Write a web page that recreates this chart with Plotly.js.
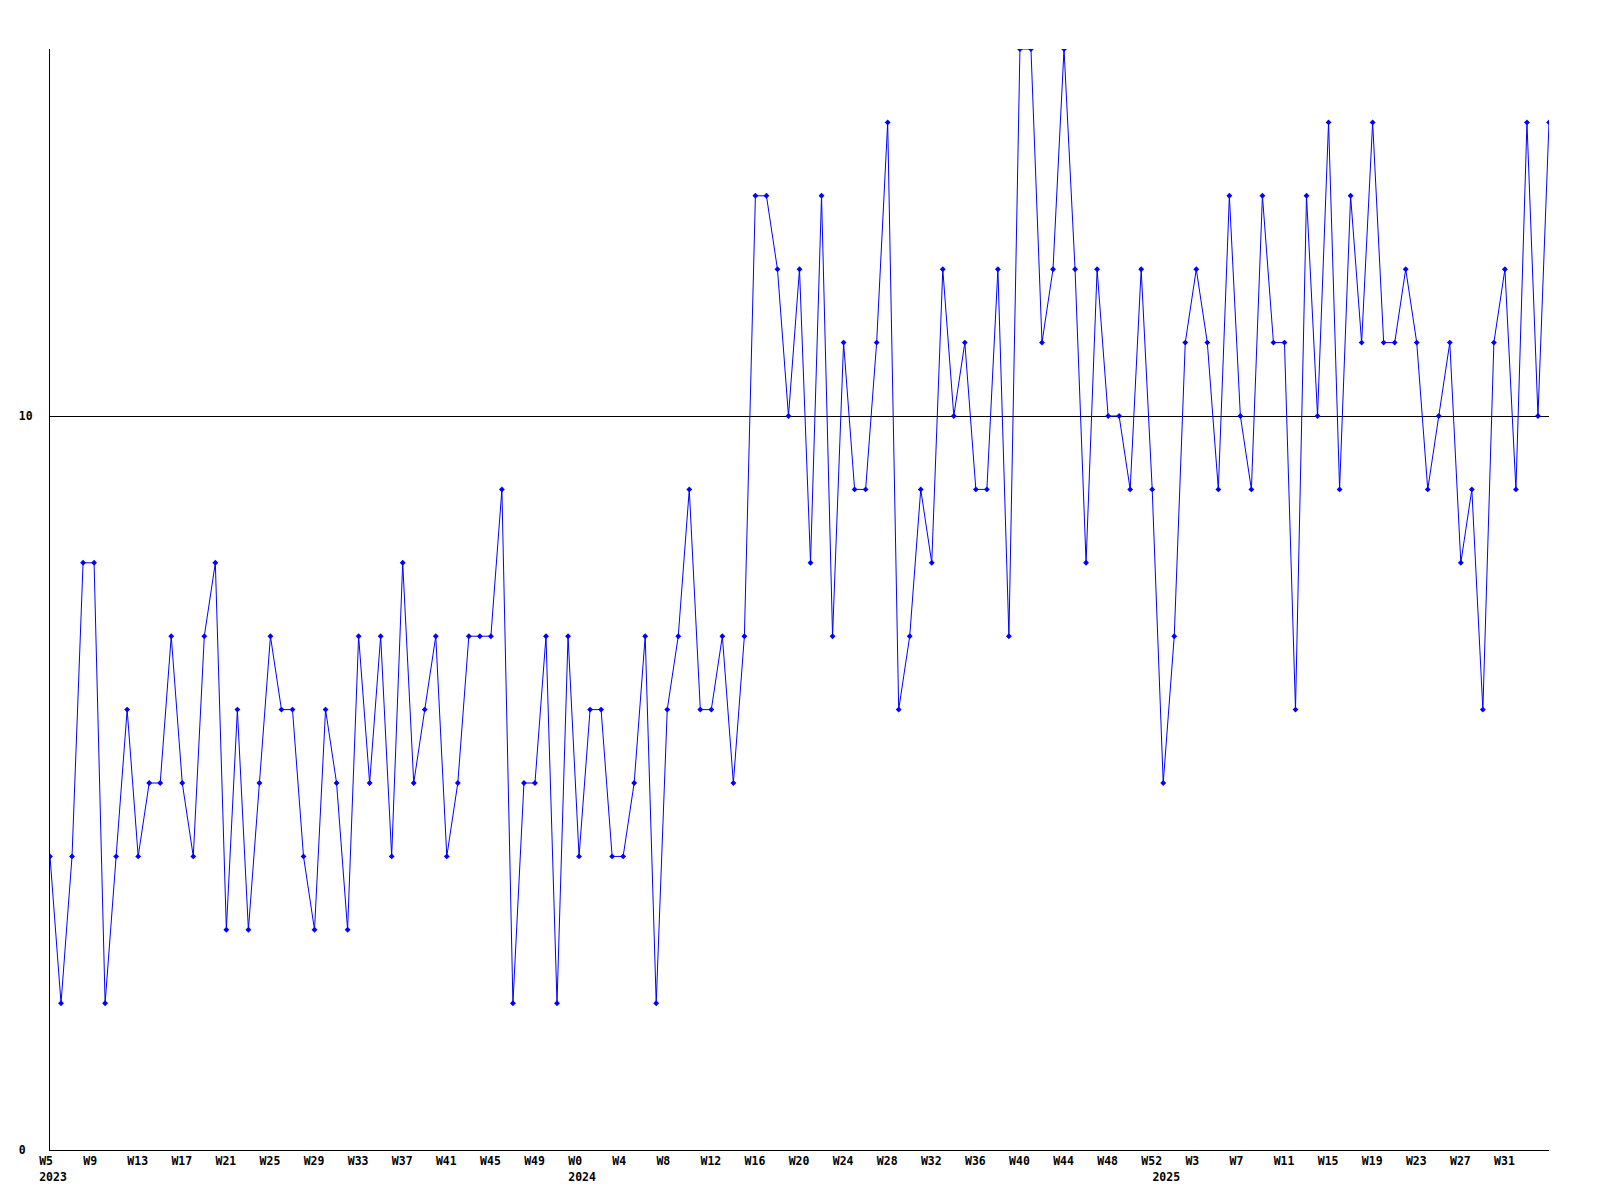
<!DOCTYPE html>
<html>
<head>
<meta charset="utf-8">
<script src="https://cdn.plot.ly/plotly-3.0.1.min.js"></script>
<style>
  html, body { margin: 0; padding: 0; background: #fff; }
  #chart { width: 1600px; height: 1200px; }
</style>
</head>
<body>
<div id="chart"></div>
<script>
// Weekly values, one per week, starting 2023 W5
const values = [
  4, 2, 4, 8, 8, 2, 4, 6, 4, 5,
  5, 7, 5, 4, 7, 8, 3, 6, 3, 5,
  7, 6, 6, 4, 3, 6, 5, 3, 7, 5,
  7, 4, 8, 5, 6, 7, 4, 5, 7, 7,
  7, 9, 2, 5, 5, 7, 2, 7, 4, 6,
  6, 4, 4, 5, 7, 2, 6, 7, 9, 6,
  6, 7, 5, 7, 13, 13, 12, 10, 12, 8,
  13, 7, 11, 9, 9, 11, 14, 6, 7, 9,
  8, 12, 10, 11, 9, 9, 12, 7, 15, 15,
  11, 12, 15, 12, 8, 12, 10, 10, 9, 12,
  9, 5, 7, 11, 12, 11, 9, 13, 10, 9,
  13, 11, 11, 6, 13, 10, 14, 9, 13, 11,
  14, 11, 11, 12, 11, 9, 10, 11, 8, 9,
  6, 11, 12, 9, 14, 10, 14
];

// Week tick labels (every 4th week) and their week positions
const weekTickLabels = ['W5','W9','W13','W17','W21','W25','W29','W33','W37','W41','W45','W49',
  'W0','W4','W8','W12','W16','W20','W24','W28','W32','W36','W40','W44','W48','W52',
  'W3','W7','W11','W15','W19','W23','W27','W31'];
const weekTickPos = [0,4,8,12,16,20,24,28,32,36,40,44,48,52,56,60,64,68,72,76,80,84,88,92,96,100,104,108,112,116,120,124,128,132];

// Year labels and the week positions where each year starts
const yearLabels = ['2023','2024','2025'];
const yearPos = [0, 48, 101];

// Y axis ticks
const yTickVals = [0, 10];
const yTickText = ['0', '10'];

const weekIndex = values.map((v, i) => i);

const NB = '\u00a0';
function pad(s, n) { while (s.length < n) s += NB; return s; }

const tickFont = { family: 'DejaVu Sans Mono, monospace', size: 11.5, weight: 'bold', color: '#000' };

const traces = [
  {
    x: weekIndex,
    y: values,
    type: 'scatter',
    mode: 'lines+markers',
    line: { color: '#0000ff', width: 1 },
    marker: { color: '#0000ff', size: 4.5, symbol: 'diamond' },
    hoverinfo: 'x+y',
    showlegend: false
  },
  {
    x: [], y: [], xaxis: 'x2', yaxis: 'y', type: 'scatter', mode: 'markers',
    showlegend: false, hoverinfo: 'skip'
  }
];

const layout = {
  width: 1600,
  height: 1200,
  margin: { l: 50, r: 51, t: 49, b: 50, pad: 0 },
  paper_bgcolor: '#fff',
  plot_bgcolor: '#fff',
  showlegend: false,
  xaxis: {
    range: [0, values.length - 1],
    tickmode: 'array',
    tickvals: weekTickPos,
    ticktext: weekTickLabels.map(s => pad(s, 4)),
    ticks: '',
    showgrid: false,
    zeroline: false,
    showline: true,
    linecolor: '#000',
    linewidth: 1,
    tickfont: tickFont,
    ticklabelshift: 3,
    fixedrange: true
  },
  xaxis2: {
    overlaying: 'x',
    anchor: 'y',
    side: 'bottom',
    matches: 'x',
    range: [0, values.length - 1],
    tickmode: 'array',
    tickvals: yearPos,
    ticktext: yearLabels.map(s => pad(s, 4)),
    ticks: '',
    showgrid: false,
    zeroline: false,
    showline: false,
    tickfont: tickFont,
    ticklabelshift: 3,
    ticklabelstandoff: 18,
    fixedrange: true
  },
  yaxis: {
    range: [0, 15],
    tickmode: 'array',
    tickvals: yTickVals,
    ticktext: yTickText.map(s => pad(s, 2)),
    ticks: '',
    showgrid: true,
    gridcolor: '#000',
    gridwidth: 1,
    zeroline: false,
    showline: true,
    linecolor: '#000',
    linewidth: 1,
    tickfont: tickFont,
    ticklabelstandoff: 14,
    fixedrange: true
  }
};

Plotly.newPlot('chart', traces, layout, { displayModeBar: false, staticPlot: true });
</script>
</body>
</html>
